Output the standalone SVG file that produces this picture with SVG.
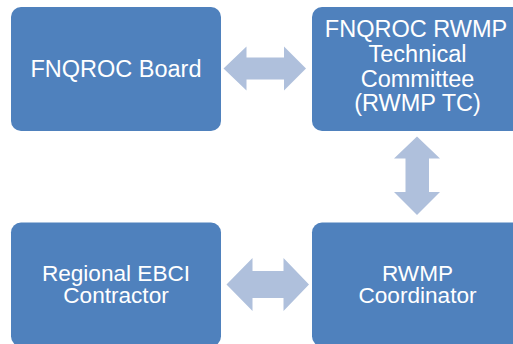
<svg xmlns="http://www.w3.org/2000/svg" width="513" height="344" viewBox="0 0 513 344">
<style>
.box{fill:#4F81BD}
.arr{fill:#AFC0DC}
text{font-family:"Liberation Sans",Arial,sans-serif;font-size:23.5px;fill:#FFFFFF;text-anchor:middle}
.tight{font-size:22.6px}
</style>
<rect width="513" height="344" fill="#FFFFFF"/>
<g id="connectors">
<polygon class="arr" points="223.5,68.5 246.5,46.5 246.5,57.5 284,57.5 284,46.5 306,68.5 284,90.5 284,79.5 246.5,79.5 246.5,90.5"/>
<polygon class="arr" points="417,136.5 440,158.5 429,158.5 429,192 440,192 417,215 394,192 405.5,192 405.5,158.5 394,158.5"/>
<polygon class="arr" points="226.5,284.5 252.5,258 252.5,271 283.5,271 283.5,258 309,284.5 283.5,311 283.5,298 252.5,298 252.5,311"/>
</g>
<g id="board">
<rect class="box" x="11" y="7" width="210" height="124" rx="10"/>
<text x="116" y="77.3">FNQROC Board</text>
</g>
<g id="tc">
<rect class="box" x="312" y="7" width="210" height="124" rx="10"/>
<text x="416" y="37.3">FNQROC RWMP</text>
<text x="417.5" y="62">Technical</text>
<text x="417.5" y="86.7">Committee</text>
<text x="417.5" y="111.3">(RWMP TC)</text>
</g>
<g id="contractor">
<rect class="box" x="11" y="222.5" width="210" height="124" rx="10"/>
<text class="tight" x="116" y="280.5">Regional EBCI</text>
<text class="tight" x="116" y="303.2">Contractor</text>
</g>
<g id="coordinator">
<rect class="box" x="312" y="222.5" width="210" height="124" rx="10"/>
<text class="tight" x="417.5" y="280.5">RWMP</text>
<text class="tight" x="417.5" y="303.2">Coordinator</text>
</g>
</svg>
